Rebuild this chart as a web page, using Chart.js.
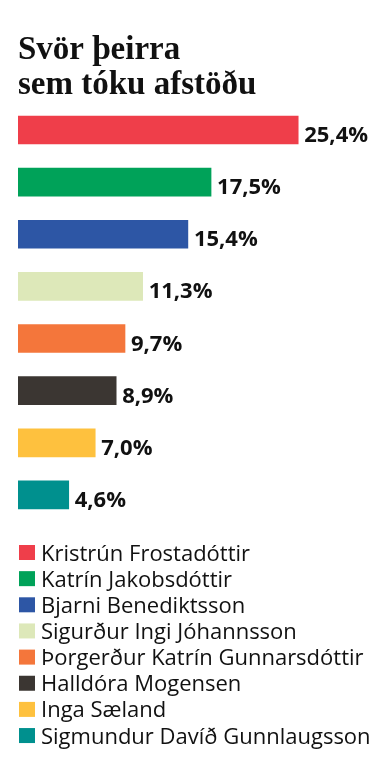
<!DOCTYPE html>
<html>
<head>
<meta charset="utf-8">
<script src="https://cdn.jsdelivr.net/npm/chart.js@4.4.1/dist/chart.umd.min.js"></script>
<style>
  html, body { margin: 0; padding: 0; background: #ffffff; }
  #wrap { width: 386px; height: 768px; position: relative; }
</style>
</head>
<body>
<div id="wrap"><canvas id="c" width="386" height="768"></canvas></div>
<script>
const titleLines = ["Svör þeirra", "sem tóku afstöðu"];
const categories = [
  "Kristrún Frostadóttir",
  "Katrín Jakobsdóttir",
  "Bjarni Benediktsson",
  "Sigurður Ingi Jóhannsson",
  "Þorgerður Katrín Gunnarsdóttir",
  "Halldóra Mogensen",
  "Inga Sæland",
  "Sigmundur Davíð Gunnlaugsson"
];
const values = [25.4, 17.5, 15.4, 11.3, 9.7, 8.9, 7.0, 4.6];
const colors = ["#EF3E4A", "#00A259", "#2D56A5", "#DDE8B9", "#F4763B", "#3B3632", "#FEC13E", "#00908E"];

const fmt = v => v.toFixed(1).replace('.', ',') + '%';

const valueLabels = {
  id: 'valueLabels',
  afterDatasetsDraw(chart) {
    const ctx = chart.ctx;
    const meta = chart.getDatasetMeta(0);
    ctx.save();
    ctx.font = 'bold 22px "Open Sans"';
    ctx.fillStyle = '#111111';
    ctx.textAlign = 'left';
    ctx.textBaseline = 'alphabetic';
    meta.data.forEach((bar, i) => {
      ctx.fillText(fmt(values[i]), bar.x + 6, bar.y + 12);
    });
    ctx.restore();
  }
};

const sideLegend = {
  id: 'sideLegend',
  afterDraw(chart) {
    const ctx = chart.ctx;
    const top = chart.chartArea.bottom + 24;
    ctx.save();
    ctx.font = '22px "Open Sans"';
    ctx.textAlign = 'left';
    ctx.textBaseline = 'alphabetic';
    categories.forEach((name, i) => {
      const y = top + i * 26.15;
      ctx.fillStyle = colors[i];
      ctx.fillRect(19, y, 16, 15);
      ctx.fillStyle = '#111111';
      ctx.fillText(name, 41, y + 15.5);
    });
    ctx.restore();
  }
};

new Chart(document.getElementById('c'), {
  type: 'bar',
  data: {
    labels: categories,
    datasets: [{
      data: values,
      backgroundColor: colors,
      borderWidth: 0,
      barThickness: 28
    }]
  },
  options: {
    indexAxis: 'y',
    responsive: false,
    animation: false,
    events: [],
    layout: { padding: { left: 18, right: 15, top: 0, bottom: 247 } },
    scales: {
      x: { display: false, min: 0, max: 32 },
      y: { display: false }
    },
    plugins: {
      legend: { display: false },
      tooltip: { enabled: false },
      title: {
        display: true,
        text: titleLines,
        align: 'start',
        color: '#111111',
        font: { family: '"Liberation Serif"', size: 33, weight: 'bold', lineHeight: 1.09 },
        padding: { top: 32, bottom: 0 }
      }
    }
  },
  plugins: [valueLabels, sideLegend]
});
</script>
</body>
</html>
